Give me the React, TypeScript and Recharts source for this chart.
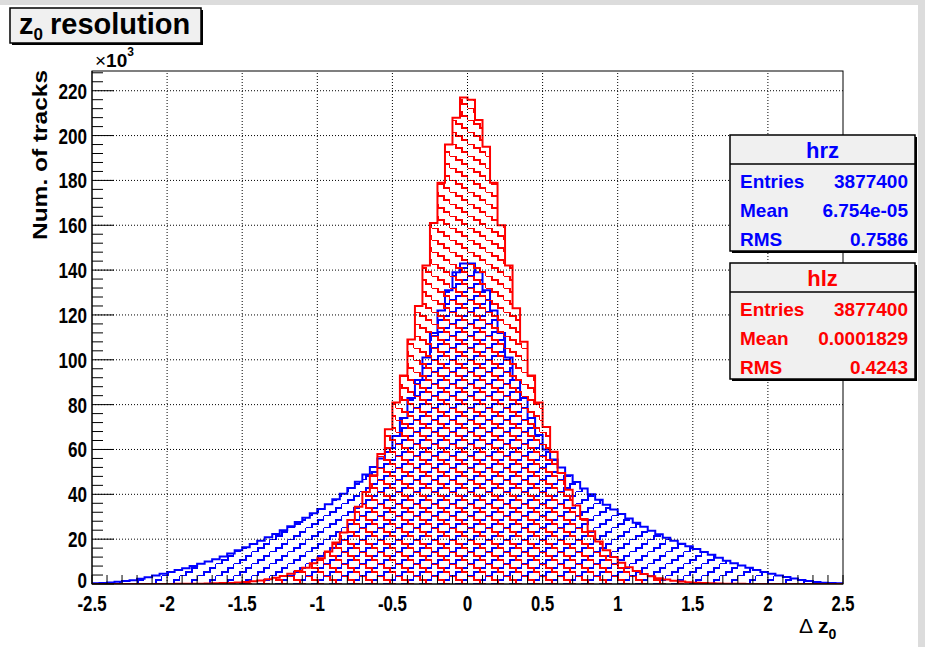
import React from 'react';
import { ComposedChart, Area, XAxis, YAxis, ReferenceLine } from 'recharts';

// binning of both histograms: 100 bins of 0.05 from -2.5 to 2.5
const BIN_LOW = -2.5;
const BIN_WIDTH = 0.05;

// hrz bin contents (x1000 tracks)
const hrzCounts = [
  0.3, 0.5, 0.7, 1.0, 1.3, 1.7, 2.3, 3.0, 3.8, 4.6,
  5.4, 6.2, 7.0, 8.0, 9.0, 10.0, 11.0, 12.3, 13.6, 15.0,
  16.4, 17.8, 19.3, 20.8, 22.3, 24.0, 25.8, 27.6, 29.5, 31.5,
  33.5, 35.6, 37.8, 40.2, 42.8, 45.6, 48.8, 52.2, 56.0, 60.5,
  66.0, 74.0, 83.0, 91.0, 101.0, 112.0, 122.0, 131.0, 139.0, 143.0,
  143.0, 139.0, 131.0, 122.0, 112.0, 101.0, 91.0, 83.0, 74.0, 66.5,
  60.0, 55.5, 52.0, 48.5, 45.5, 42.6, 40.0, 37.6, 35.4, 33.2,
  31.2, 29.2, 27.3, 25.5, 23.8, 22.2, 20.6, 19.3, 18.0, 16.8,
  15.6, 14.3, 13.0, 11.7, 10.4, 9.3, 8.2, 7.2, 6.3, 5.4,
  4.6, 3.8, 3.1, 2.4, 1.8, 1.3, 0.9, 0.6, 0.4, 0.3,
];

// hlz bin contents (x1000 tracks)
const hlzCounts = [
  0.0, 0.0, 0.0, 0.0, 0.0, 0.01, 0.01, 0.02, 0.03, 0.04,
  0.05, 0.07, 0.09, 0.12, 0.16, 0.22, 0.3, 0.4, 0.5, 0.7,
  0.9, 1.2, 1.6, 2.1, 2.8, 3.6, 4.6, 5.8, 7.3, 9.2,
  11.5, 14.5, 18.5, 23.0, 28.5, 34.5, 41.0, 48.5, 58.0, 69.0,
  81.0, 93.0, 109.0, 124.0, 142.0, 161.0, 179.0, 196.0, 208.0, 217.0,
  216.0, 207.0, 195.0, 179.0, 160.0, 142.0, 123.0, 108.0, 93.0, 81.0,
  70.0, 59.0, 49.5, 42.0, 35.0, 29.0, 23.5, 19.0, 15.0, 12.0,
  9.5, 7.5, 5.8, 4.5, 3.5, 2.6, 2.0, 1.5, 1.1, 0.8,
  0.6, 0.45, 0.3, 0.2, 0.15, 0.1, 0.07, 0.05, 0.03, 0.02,
  0.01, 0.01, 0.0, 0.0, 0.0, 0.0, 0.0, 0.0, 0.0, 0.0,
];

const xLabelTicks = [-2.5, -2, -1.5, -1, -0.5, 0, 0.5, 1, 1.5, 2, 2.5];
const yLabelTicks = [0, 20, 40, 60, 80, 100, 120, 140, 160, 180, 200, 220];

const hrzStats = [
  ['Entries', '3877400'],
  ['Mean', '6.754e-05'],
  ['RMS', '0.7586'],
];
const hlzStats = [
  ['Entries', '3877400'],
  ['Mean', '0.0001829'],
  ['RMS', '0.4243'],
];

const BLUE = '#0000ff';
const RED = '#ff0000';
const FONT = '"Liberation Sans", Arial, Helvetica, sans-serif';

// step histogram rows: one point per lower bin edge, plus the closing edge
const rows = hrzCounts.map((v, i) => ({
  x: Number((BIN_LOW + i * BIN_WIDTH).toFixed(2)),
  hrz: v,
  hlz: hlzCounts[i],
}));
rows.push({ x: 2.5, hrz: hrzCounts[99], hlz: hlzCounts[99] });

const xMinorTicks = Array.from({ length: 51 }, (_, i) => Number((-2.5 + i * 0.1).toFixed(1)));
const yMinorTicks = Array.from({ length: 58 }, (_, i) => i * 4);

const charW: Record<string, number> = { '-': 6, '.': 4 };
const labelWidth = (s: string) => s.split('').reduce((w, c) => w + (charW[c] ?? 9.5), 0);

const XTick = (props: any) => {
  const { x, y, payload } = props;
  const v = payload.value;
  const major = xLabelTicks.some((t) => Math.abs(t - v) < 1e-6);
  const label = String(v);
  return (
    <g>
      <line x1={x} y1={y} x2={x} y2={y - 9} stroke="#000" strokeWidth={1} />
      {major && (
        <text
          x={x}
          y={y + 27}
          textAnchor="middle"
          fontFamily={FONT}
          fontWeight="bold"
          fontSize={22}
          textLength={labelWidth(label)}
          lengthAdjust="spacingAndGlyphs"
          fill="#000"
        >
          {label}
        </text>
      )}
    </g>
  );
};

const YTick = (props: any) => {
  const { x, y, payload } = props;
  const v = payload.value;
  const major = v % 20 === 0;
  const label = String(v);
  return (
    <g>
      <line x1={x} y1={y} x2={x + (major ? 22 : 11)} y2={y} stroke="#000" strokeWidth={1} />
      {major && (
        <text
          x={x - 5}
          y={v === 0 ? y + 4 : y + 8}
          textAnchor="end"
          fontFamily={FONT}
          fontWeight="bold"
          fontSize={22}
          textLength={labelWidth(label)}
          lengthAdjust="spacingAndGlyphs"
          fill="#000"
        >
          {label}
        </text>
      )}
    </g>
  );
};

const StatsBox = ({ top, name, color, stats }: { top: number; name: string; color: string; stats: string[][] }) => {
  const left = 730;
  const w = 185;
  const h = 116;
  return (
    <g fontFamily={FONT} fontWeight="bold">
      <rect x={left + 2} y={top + 2} width={w} height={h} fill="#000" />
      <rect x={left} y={top} width={w} height={h} fill="#f0f0f0" stroke="#000" strokeWidth={1.5} />
      <line x1={left} y1={top + 29} x2={left + w} y2={top + 29} stroke="#000" strokeWidth={1.5} />
      <text x={left + w / 2} y={top + 23} textAnchor="middle" fontSize={22} fill={color}>
        {name}
      </text>
      {stats.map(([k, v], i) => (
        <g key={k}>
          <text x={left + 10} y={top + 53 + i * 29} fontSize={19} fill={color}>
            {k}
          </text>
          <text x={left + w - 7} y={top + 53 + i * 29} fontSize={19} fill={color} textAnchor="end">
            {v}
          </text>
        </g>
      ))}
    </g>
  );
};

export default function App() {
  return (
    <div style={{ position: 'absolute', left: 0, top: 0, width: 925, height: 647, background: '#dcdcdc' }}>
      <div style={{ position: 'absolute', left: 0, top: 5, width: 918, height: 642, background: '#fff' }} />
      <div style={{ position: 'absolute', left: 0, top: 0 }}>
        <ComposedChart width={925} height={647} data={rows} margin={{ top: 71, right: 82, bottom: 23, left: 32 }}>
          <defs>
            <pattern id="hatchHrz" patternUnits="userSpaceOnUse" width={18} height={12}>
              <path d="M0,12 h6 v-4 h6 v-4 h6 v-4" fill="none" stroke={BLUE} strokeWidth={1.6} shapeRendering="crispEdges" />
            </pattern>
            <pattern id="hatchHlz" patternUnits="userSpaceOnUse" width={18} height={12}>
              <path d="M0,0 h6 v4 h6 v4 h6 v4" fill="none" stroke={RED} strokeWidth={1.6} shapeRendering="crispEdges" />
            </pattern>
          </defs>
          <XAxis
            dataKey="x"
            type="number"
            domain={[-2.5, 2.5]}
            ticks={xMinorTicks}
            interval={0}
            tickSize={0}
            tickMargin={0}
            height={40}
            allowDataOverflow
            axisLine={{ stroke: '#000', strokeWidth: 1 }}
            tickLine={false}
            tick={(p: any) => <XTick {...p} />}
          />
          <YAxis
            type="number"
            domain={[0, 228.8]}
            ticks={yMinorTicks}
            interval={0}
            tickSize={0}
            tickMargin={0}
            width={60}
            allowDataOverflow
            axisLine={{ stroke: '#000', strokeWidth: 1 }}
            tickLine={false}
            tick={(p: any) => <YTick {...p} />}
          />
          {xLabelTicks.slice(1, -1).map((v) => (
            <ReferenceLine key={`gx${v}`} x={v} stroke="#000" strokeDasharray="1 2" strokeWidth={1} />
          ))}
          {yLabelTicks.slice(1).map((v) => (
            <ReferenceLine key={`gy${v}`} y={v} stroke="#000" strokeDasharray="1 2" strokeWidth={1} />
          ))}
          <Area
            type="stepAfter"
            dataKey="hrz"
            stroke={BLUE}
            strokeWidth={2}
            fill="url(#hatchHrz)"
            fillOpacity={1}
            dot={false}
            activeDot={false}
            isAnimationActive={false}
          />
          <Area
            type="stepAfter"
            dataKey="hlz"
            stroke={RED}
            strokeWidth={2}
            fill="url(#hatchHlz)"
            fillOpacity={1}
            dot={false}
            activeDot={false}
            isAnimationActive={false}
          />
        </ComposedChart>
      </div>
      <svg width={925} height={647} style={{ position: 'absolute', left: 0, top: 0, pointerEvents: 'none' }}>
        <rect x={92} y={71} width={751} height={513} fill="none" stroke="#000" strokeWidth={1} />
        {/* title pave */}
        <rect x={12} y={10} width={191} height={35} fill="#000" />
        <rect x={10} y={8} width={191} height={35} fill="#f0f0f0" stroke="#000" strokeWidth={1.5} />
        <text x={19} y={34} fontFamily={FONT} fontWeight="bold" fontSize={29} fill="#000">
          z<tspan fontSize={17} dy={6}>0</tspan>
          <tspan dx={7} dy={-6}>resolution</tspan>
        </text>
        {/* exponent */}
        <text x={95} y={67} fontFamily={FONT} fontSize={19} fill="#000">
          ×<tspan fontWeight="bold">10</tspan>
          <tspan fontSize={12} dy={-11} fontWeight="bold">3</tspan>
        </text>
        {/* y title */}
        <text
          transform="translate(47,70) rotate(-90)"
          textAnchor="end"
          fontFamily={FONT}
          fontWeight="bold"
          fontSize={21}
          textLength={170}
          lengthAdjust="spacingAndGlyphs"
          fill="#000"
        >
          Num. of tracks
        </text>
        {/* x title */}
        <text x={799} y={633} fontFamily={FONT} fontSize={21} fill="#000">
          Δ<tspan dx={5} fontWeight="bold">z</tspan>
          <tspan fontSize={14} dy={6} fontWeight="bold">0</tspan>
        </text>
        <StatsBox top={135} name="hrz" color={BLUE} stats={hrzStats} />
        <StatsBox top={263} name="hlz" color={RED} stats={hlzStats} />
      </svg>
    </div>
  );
}
